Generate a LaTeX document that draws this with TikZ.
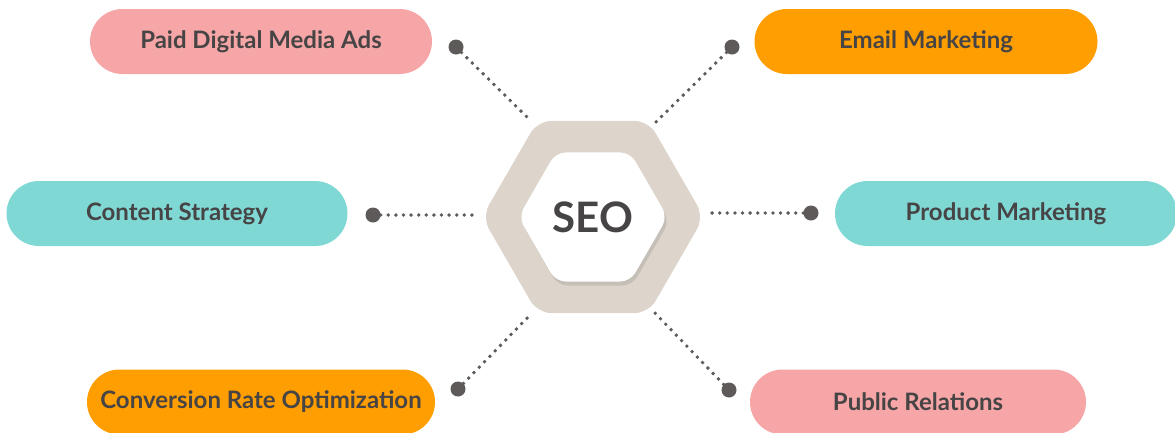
\documentclass[tikz,border=0pt]{standalone}
\usepackage{fontspec}
\setmainfont{Lato}
\usetikzlibrary{shapes.geometric,shadows}

\definecolor{pinkpill}{HTML}{F7A6A7}
\definecolor{orangepill}{HTML}{FF9E00}
\definecolor{tealpill}{HTML}{80D8D5}
\definecolor{hexgray}{HTML}{DDD5CC}
\definecolor{dotgray}{HTML}{5E5A5A}
\definecolor{textgray}{HTML}{464444}

\tikzset{
    pill/.style={rectangle, rounded corners=32.5pt, minimum height=65pt, inner sep=0pt,
        text=textgray, font=\fontsize{24}{28}\selectfont\bfseries},
    hexshape/.style={regular polygon, regular polygon sides=6, inner sep=0pt},
    bigdot/.style={circle, fill=dotgray, minimum size=15pt, inner sep=0pt},
    dotline/.style={dotgray, line width=3.8pt, line cap=round, dash pattern=on 0pt off 7.6pt}
}

\begin{document}
\begin{tikzpicture}[x=1pt, y=-1pt]

    \useasboundingbox (0,0) rectangle (1175,432);

    % Outer and inner hexagon
    \node[hexshape, minimum size=222pt, fill=hexgray, rounded corners=14pt] (hexout) at (593,217) {};
    \node[hexshape, minimum size=149pt, fill=white, rounded corners=10pt,
        drop shadow={shadow xshift=2pt, shadow yshift=-4pt, opacity=0.25},
        text=textgray, font=\fontsize{42}{46}\selectfont\bfseries] (seo) at (593,217) {SEO};

    % Labels round the hexagon
    \foreach \nom/\px/\py/\w/\col/\txt in {
        paid/261/41.5/342/pinkpill/Paid Digital Media Ads,
        email/926/41.5/343/orangepill/Email Marketing,
        content/177/213.5/341/tealpill/Content Strategy,
        product/1006/213.5/342/tealpill/Product Marketing,
        conversion/261/402/348/orangepill/Conversion Rate Optimization,
        public/918/402/336/pinkpill/Public Relations} {
        \node[pill, fill=\col, minimum width=\w pt] (\nom) at (\px,\py) {\txt};
    }

    % Dots and dotted connectors to the hexagon
    \foreach \i/\dx/\dy/\hx/\hy in {1/456/47/530/120, 2/732/47/656/122, 3/373/215/478/215,
        4/811/213/706/213, 5/458/389/532/313, 6/729/390/655/313} {
        \coordinate (h\i) at (\hx,\hy);
        \node[bigdot] (d\i) at (\dx,\dy) {};
        \draw[dotline] (d\i) -- (h\i);
    }

\end{tikzpicture}
\end{document}
